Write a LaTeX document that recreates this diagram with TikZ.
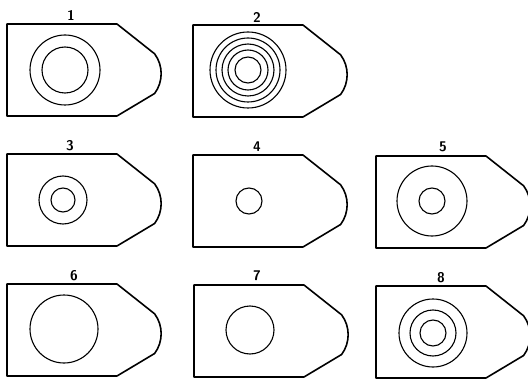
\documentclass[tikz,border=0pt]{standalone}
\usepackage{tikz}

\tikzset{
    outline/.style={line width=1.6pt, line join=round},
    ring/.style={line width=1.1pt},
    number/.style={font=\sffamily\bfseries\fontsize{14}{16}\selectfont, inner sep=0pt},
    plate/.pic={
        \draw[outline] (0,0) -- (110,0) -- (147.6,-29.8)
            arc[start angle=36.6, end angle=-36.6, radius=33.3]
            -- (110,-92) -- (0,-92) -- cycle;
    },
}

\begin{document}
\begin{tikzpicture}[x=1pt, y=1pt]
    \useasboundingbox (0,0) rectangle (528,381);

    % Plates
    \pic (plate1) at (7,357)   {plate};
    \pic (plate2) at (193,356) {plate};
    \pic (plate3) at (7,227)   {plate};
    \pic (plate4) at (193,226) {plate};
    \pic (plate5) at (376,225) {plate};
    \pic (plate6) at (7,97)    {plate};
    \pic (plate7) at (194,96)  {plate};
    \pic (plate8) at (376,95)  {plate};

    % Rings
    \draw[ring] (65,311) circle[radius=35] (65,311) circle[radius=23];
    \draw[ring] (248,311) circle[radius=38] (248,311) circle[radius=32]
                (248,311) circle[radius=26] (248,311) circle[radius=20]
                (248,311) circle[radius=13];
    \draw[ring] (63,181) circle[radius=24] (63,181) circle[radius=12];
    \draw[ring] (249,180) circle[radius=13];
    \draw[ring] (432,180) circle[radius=35] (432,180) circle[radius=13];
    \draw[ring] (64,52) circle[radius=34];
    \draw[ring] (250,51) circle[radius=24];
    \draw[ring] (433,48) circle[radius=34] (433,48) circle[radius=23]
                (433,48) circle[radius=13];

    % Numbers
    \node[number] (num1) at (71,366)  {1};
    \node[number] (num2) at (257,364) {2};
    \node[number] (num3) at (70,235)  {3};
    \node[number] (num4) at (257,234) {4};
    \node[number] (num5) at (443,234) {5};
    \node[number] (num6) at (74,105)  {6};
    \node[number] (num7) at (257,105) {7};
    \node[number] (num8) at (441,103) {8};

\end{tikzpicture}
\end{document}
